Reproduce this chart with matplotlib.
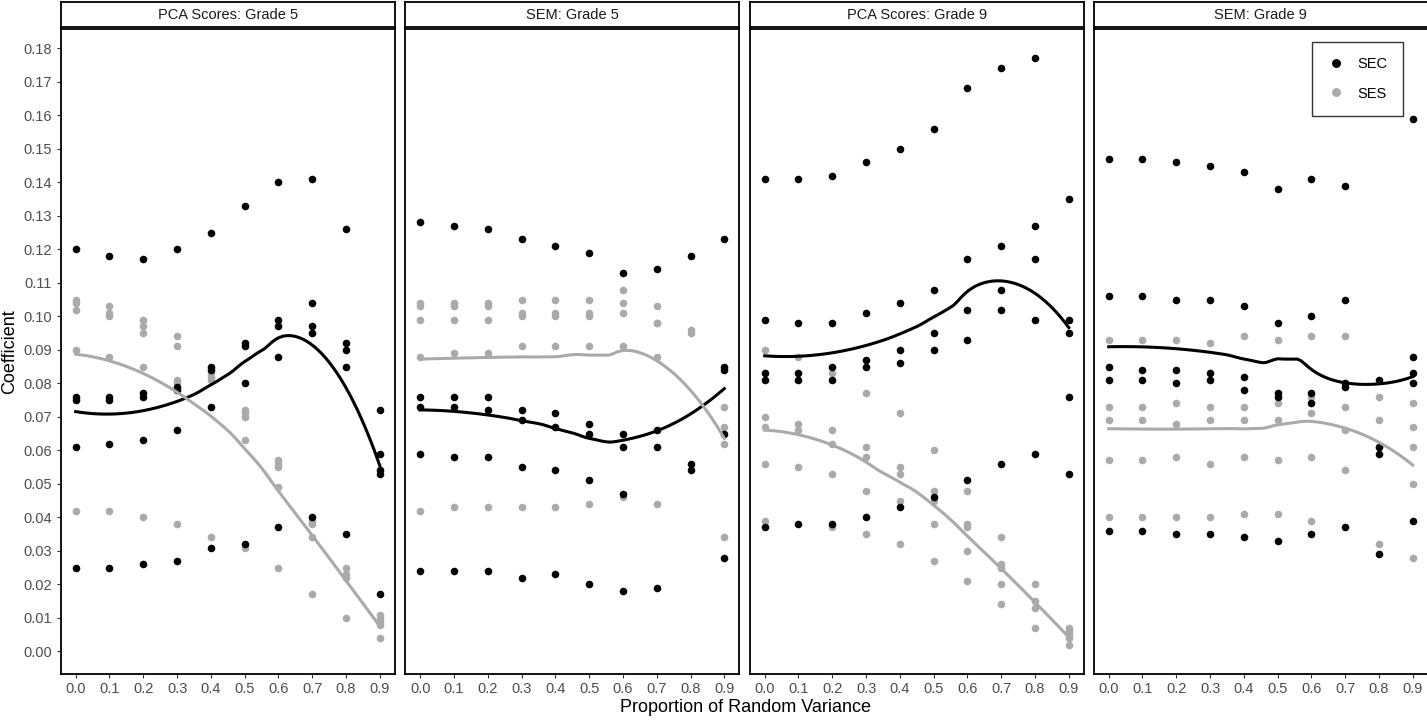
import numpy as np
import matplotlib
matplotlib.use("Agg")
import matplotlib.pyplot as plt
from matplotlib.lines import Line2D

plt.rcParams["font.family"] = ["Liberation Sans", "DejaVu Sans"]

# ── Data (one list of values per x level) ──────────────────
x_levels = [0.0, 0.1, 0.2, 0.3, 0.4, 0.5, 0.6, 0.7, 0.8, 0.9]
panel_titles = ["PCA Scores: Grade 5", "SEM: Grade 5",
                "PCA Scores: Grade 9", "SEM: Grade 9"]

pca5_sec = [[0.120, 0.076, 0.075, 0.061, 0.025],
            [0.118, 0.076, 0.075, 0.062, 0.025],
            [0.117, 0.077, 0.076, 0.063, 0.026],
            [0.120, 0.079, 0.078, 0.066, 0.027],
            [0.125, 0.085, 0.084, 0.073, 0.031],
            [0.133, 0.092, 0.091, 0.080, 0.032],
            [0.140, 0.099, 0.097, 0.088, 0.037],
            [0.141, 0.104, 0.097, 0.095, 0.040],
            [0.126, 0.092, 0.090, 0.085, 0.035],
            [0.072, 0.059, 0.054, 0.053, 0.017]]
pca5_ses = [[0.105, 0.104, 0.102, 0.090, 0.042],
            [0.103, 0.101, 0.100, 0.088, 0.042],
            [0.099, 0.097, 0.095, 0.085, 0.040],
            [0.094, 0.091, 0.081, 0.080, 0.038],
            [0.083, 0.082, 0.081, 0.034],
            [0.072, 0.071, 0.070, 0.063, 0.031],
            [0.057, 0.056, 0.055, 0.049, 0.025],
            [0.039, 0.038, 0.034, 0.017],
            [0.025, 0.023, 0.022, 0.010],
            [0.011, 0.010, 0.009, 0.008, 0.004]]

sem5_sec = [[0.128, 0.076, 0.073, 0.059, 0.024],
            [0.127, 0.076, 0.073, 0.058, 0.024],
            [0.126, 0.076, 0.072, 0.058, 0.024],
            [0.123, 0.072, 0.069, 0.055, 0.022],
            [0.121, 0.071, 0.067, 0.054, 0.023],
            [0.119, 0.068, 0.065, 0.051, 0.020],
            [0.113, 0.065, 0.061, 0.047, 0.018],
            [0.114, 0.066, 0.061, 0.019],
            [0.118, 0.056, 0.054],
            [0.123, 0.085, 0.084, 0.065, 0.028]]
sem5_ses = [[0.104, 0.103, 0.099, 0.088, 0.042],
            [0.104, 0.103, 0.099, 0.089, 0.043],
            [0.104, 0.103, 0.099, 0.089, 0.043],
            [0.105, 0.101, 0.100, 0.091, 0.043],
            [0.105, 0.101, 0.100, 0.091, 0.043],
            [0.105, 0.101, 0.100, 0.091, 0.044],
            [0.108, 0.104, 0.101, 0.091, 0.046],
            [0.103, 0.098, 0.098, 0.088, 0.044],
            [0.096, 0.095],
            [0.073, 0.067, 0.062, 0.034]]

pca9_sec = [[0.141, 0.099, 0.083, 0.081, 0.037],
            [0.141, 0.098, 0.083, 0.081, 0.038],
            [0.142, 0.098, 0.085, 0.081, 0.038],
            [0.146, 0.101, 0.087, 0.085, 0.040],
            [0.150, 0.104, 0.090, 0.086, 0.043],
            [0.156, 0.108, 0.095, 0.090, 0.046],
            [0.168, 0.117, 0.102, 0.093, 0.051],
            [0.174, 0.121, 0.108, 0.102, 0.056],
            [0.177, 0.127, 0.117, 0.099, 0.059],
            [0.135, 0.099, 0.095, 0.076, 0.053]]
pca9_ses = [[0.090, 0.070, 0.067, 0.056, 0.039],
            [0.088, 0.068, 0.066, 0.055],
            [0.083, 0.066, 0.062, 0.053, 0.037],
            [0.077, 0.061, 0.058, 0.048, 0.035],
            [0.071, 0.055, 0.053, 0.045, 0.032],
            [0.060, 0.048, 0.045, 0.038, 0.027],
            [0.048, 0.038, 0.037, 0.030, 0.021],
            [0.034, 0.026, 0.025, 0.020, 0.014],
            [0.020, 0.015, 0.013, 0.007],
            [0.007, 0.006, 0.005, 0.004, 0.002]]

sem9_sec = [[0.147, 0.106, 0.085, 0.081, 0.036],
            [0.147, 0.106, 0.084, 0.081, 0.036],
            [0.146, 0.105, 0.084, 0.080, 0.035],
            [0.145, 0.105, 0.083, 0.081, 0.035],
            [0.143, 0.103, 0.082, 0.078, 0.034],
            [0.138, 0.098, 0.077, 0.076, 0.033],
            [0.141, 0.100, 0.077, 0.074, 0.035],
            [0.139, 0.105, 0.080, 0.079, 0.037],
            [0.081, 0.061, 0.059, 0.029],
            [0.159, 0.088, 0.083, 0.080, 0.039]]
sem9_ses = [[0.093, 0.073, 0.069, 0.057, 0.040],
            [0.093, 0.073, 0.069, 0.057, 0.040],
            [0.093, 0.074, 0.068, 0.058, 0.040],
            [0.092, 0.073, 0.069, 0.056, 0.040],
            [0.094, 0.073, 0.069, 0.058, 0.041],
            [0.093, 0.074, 0.069, 0.057, 0.041],
            [0.094, 0.076, 0.071, 0.058, 0.039],
            [0.094, 0.073, 0.066, 0.054],
            [0.076, 0.069, 0.061, 0.032],
            [0.074, 0.067, 0.061, 0.050, 0.028]]

panels = [(pca5_sec, pca5_ses), (sem5_sec, sem5_ses),
          (pca9_sec, pca9_ses), (sem9_sec, sem9_ses)]

SEC_COL = "#000000"
SES_COL = "#AAAAAA"


def flatten(groups):
    xs, ys = [], []
    for xv, vals in zip(x_levels, groups):
        xs += [xv] * len(vals)
        ys += vals
    return np.array(xs), np.array(ys)


def loess(x, y, grid, span=0.75):
    # local quadratic fit with tricube weights (like R's loess defaults)
    n = len(x)
    q = int(np.floor(n * span))
    fit = []
    for x0 in grid:
        d = np.abs(x - x0)
        h = np.sort(d)[q - 1] * 1.0001
        w = np.clip(1 - (d / h) ** 3, 0, None) ** 3
        X = np.column_stack([np.ones(n), x - x0, (x - x0) ** 2])
        sw = np.sqrt(w)
        beta = np.linalg.lstsq(X * sw[:, None], y * sw, rcond=None)[0]
        fit.append(beta[0])
    return np.array(fit)


# shared y range with ggplot-style 5% expansion
all_y = np.concatenate([flatten(g)[1] for p in panels for g in p])
ymin, ymax = all_y.min(), all_y.max()
pad = 0.05 * (ymax - ymin)

fig = plt.figure(figsize=(14.27, 7.2), dpi=100)
W, H = 1427, 720
lefts = [60.5, 405, 749.5, 1093.5]
pw = 334.5
top_px, bot_px = 29, 674

grid = np.linspace(0, 0.9, 80)
for i, (sec, ses) in enumerate(panels):
    ax = fig.add_axes([lefts[i] / W, (H - bot_px) / H, pw / W, (bot_px - top_px) / H])
    xs_c, ys_c = flatten(sec)
    xs_s, ys_s = flatten(ses)
    ax.scatter(xs_s, ys_s, s=30, color=SES_COL, linewidths=0, zorder=2)
    ax.scatter(xs_c, ys_c, s=30, color=SEC_COL, linewidths=0, zorder=3)
    ax.plot(grid, loess(xs_c, ys_c, grid), color=SEC_COL, lw=2.2, zorder=4)
    ax.plot(grid, loess(xs_s, ys_s, grid), color=SES_COL, lw=2.2, zorder=4)

    ax.set_xlim(-0.045, 0.945)
    ax.set_ylim(ymin - pad, ymax + pad)
    ax.set_xticks(x_levels)
    ax.set_xticklabels([f"{v:.1f}" for v in x_levels])
    ax.tick_params(axis="x", length=3, width=0.8, color="#333333",
                   labelsize=10.5, labelcolor="#4D4D4D", pad=3)
    if i == 0:
        yt = np.round(np.arange(0, 0.181, 0.01), 2)
        ax.set_yticks(yt)
        ax.set_yticklabels([f"{v:.2f}" for v in yt])
        ax.tick_params(axis="y", length=3, width=0.8, color="#333333",
                       labelsize=10.5, labelcolor="#4D4D4D", pad=3)
    else:
        ax.set_yticks([])
    for sp in ax.spines.values():
        sp.set_color("black")
        sp.set_linewidth(1.3)

    # facet strip
    st = fig.add_axes([lefts[i] / W, (H - 27) / H, pw / W, 25 / H])
    st.set_xticks([])
    st.set_yticks([])
    for sp in st.spines.values():
        sp.set_color("black")
        sp.set_linewidth(1.3)
    st.text(0.5, 0.48, panel_titles[i], ha="center", va="center",
            fontsize=10.5, color="#1A1A1A", transform=st.transAxes)

    if i == 3:
        handles = [Line2D([], [], ls="", marker="o", ms=5.4, color=SEC_COL, label="SEC"),
                   Line2D([], [], ls="", marker="o", ms=5.4, color=SES_COL, label="SES")]
        leg = ax.legend(handles=handles, loc="upper right", bbox_to_anchor=(0.925, 0.980),
                        borderaxespad=0, fontsize=10.5, frameon=True, fancybox=False,
                        handletextpad=0.9, labelspacing=1.05, borderpad=1.05,
                        handlelength=1.2)
        leg.get_frame().set_edgecolor("black")
        leg.get_frame().set_linewidth(1.0)

fig.text(10 / W, 1 - 352 / H, "Coefficient", rotation=90,
         ha="center", va="center", fontsize=13)
fig.text(745 / W, 1 - 708 / H, "Proportion of Random Variance",
         ha="center", va="center", fontsize=13)

fig.savefig("out.png", dpi=100)
